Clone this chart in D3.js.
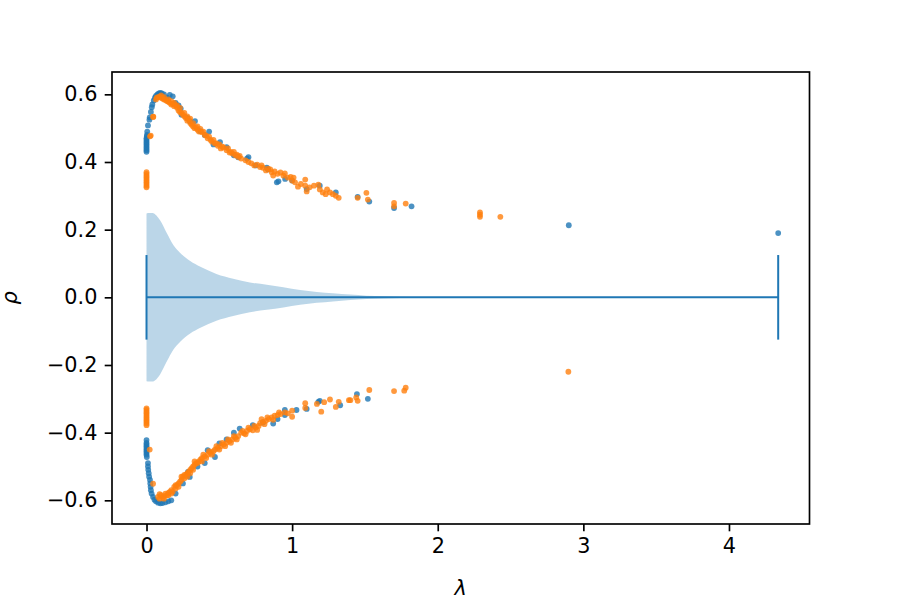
<!DOCTYPE html>
<meta charset="utf-8">
<style>
	body { margin: 0; background: #fff; }
	svg text { font-family: "DejaVu Sans", sans-serif; }
</style>
<div id="vis-rho"></div>
<script src="https://cdn.jsdelivr.net/npm/d3@7"></script>
<script>
	// ---- data ----
	// scatter points as [lambda, rho]
	const blueUpper = [
		[0, 0.43], [0, 0.435], [0, 0.44], [0, 0.445], [0, 0.45], [0, 0.455], [0, 0.46], [0, 0.465], [0, 0.47],
		[0.002, 0.475], [0.003, 0.48], [0.005, 0.49], [0.01, 0.508], [0.02, 0.525], [0.022, 0.532], [0.03, 0.548],
		[0.036, 0.562], [0.04, 0.57], [0.05, 0.582], [0.058, 0.59], [0.065, 0.595], [0.075, 0.6], [0.085, 0.603],
		[0.095, 0.604], [0.105, 0.603], [0.12, 0.6], [0.14, 0.59], [0.16, 0.598], [0.18, 0.594], [0.2, 0.575],
		[0.22, 0.567], [0.235, 0.558], [0.24, 0.54], [0.28, 0.53], [0.3, 0.52], [0.333, 0.521], [0.37, 0.491],
		[0.4, 0.48], [0.43, 0.49], [0.46, 0.452], [0.505, 0.459], [0.55, 0.444], [0.6, 0.42], [0.63, 0.414],
		[0.69, 0.41], [0.7, 0.414], [0.75, 0.39], [0.826, 0.383], [0.835, 0.378], [0.895, 0.34], [0.906, 0.343],
		[0.952, 0.35], [1.0, 0.345], [1.1, 0.32], [1.19, 0.33], [1.3, 0.31], [1.45, 0.297], [1.53, 0.283],
		[1.7, 0.264], [1.82, 0.269], [2.9, 0.213], [4.338, 0.19]
	];
	const orangeUpper = [
		[0, 0.325], [0, 0.33], [0, 0.335], [0, 0.34], [0, 0.345], [0, 0.35], [0, 0.355], [0, 0.36], [0, 0.365], [0, 0.37],
		[0.024, 0.476], [0.029, 0.478], [0.045, 0.533], [0.047, 0.534],
		[0.065, 0.585], [0.07, 0.59], [0.08, 0.592], [0.09, 0.593], [0.1, 0.59], [0.1, 0.597], [0.11, 0.588],
		[0.12, 0.585], [0.12, 0.592], [0.13, 0.583], [0.14, 0.58], [0.15, 0.578], [0.15, 0.585], [0.16, 0.575],
		[0.17, 0.57], [0.17, 0.58], [0.18, 0.572], [0.19, 0.565], [0.19, 0.575], [0.2, 0.567], [0.21, 0.56],
		[0.21, 0.567], [0.22, 0.552], [0.23, 0.56], [0.23, 0.548], [0.24, 0.545], [0.25, 0.54], [0.26, 0.535],
		[0.26, 0.545], [0.27, 0.53], [0.28, 0.522], [0.28, 0.535], [0.29, 0.525], [0.3, 0.515], [0.3, 0.528],
		[0.31, 0.51], [0.32, 0.505], [0.32, 0.515], [0.33, 0.5], [0.34, 0.502], [0.35, 0.495], [0.35, 0.505],
		[0.36, 0.49], [0.37, 0.498], [0.38, 0.488], [0.39, 0.49], [0.4, 0.48], [0.41, 0.478], [0.42, 0.47],
		[0.43, 0.475], [0.44, 0.465], [0.45, 0.46], [0.46, 0.465], [0.47, 0.455], [0.48, 0.455], [0.49, 0.448],
		[0.5, 0.452], [0.51, 0.44], [0.52, 0.445], [0.53, 0.443], [0.55, 0.435], [0.56, 0.44], [0.57, 0.428],
		[0.58, 0.43], [0.59, 0.425], [0.6, 0.43], [0.61, 0.42], [0.62, 0.422], [0.63, 0.415], [0.64, 0.418],
		[0.65, 0.41], [0.68, 0.405], [0.7, 0.4], [0.72, 0.396], [0.74, 0.39], [0.76, 0.392], [0.78, 0.385],
		[0.79, 0.39], [0.8, 0.383], [0.82, 0.375], [0.835, 0.38], [0.85, 0.378], [0.86, 0.37], [0.87, 0.36],
		[0.88, 0.372], [0.9, 0.365], [0.92, 0.369], [0.94, 0.36], [0.95, 0.366], [0.97, 0.354], [0.99, 0.356],
		[1.0, 0.345], [1.01, 0.354], [1.02, 0.34], [1.04, 0.327], [1.06, 0.335], [1.09, 0.348], [1.09, 0.33],
		[1.1, 0.313], [1.12, 0.325], [1.15, 0.33], [1.18, 0.333], [1.19, 0.319], [1.21, 0.31], [1.23, 0.305],
		[1.24, 0.319], [1.26, 0.31], [1.28, 0.305], [1.3, 0.3], [1.32, 0.294], [1.45, 0.294], [1.51, 0.309],
		[1.52, 0.289], [1.7, 0.279], [1.7, 0.269], [1.78, 0.277],
		[2.29, 0.251], [2.29, 0.244], [2.29, 0.238], [2.43, 0.238]
	];
	const blueLower = [
		[0, -0.422], [0, -0.43], [0, -0.435], [0, -0.44], [0, -0.445], [0, -0.45], [0, -0.455], [0, -0.46],
		[0, -0.465], [0.002, -0.472], [0.01, -0.49], [0.01, -0.5], [0.012, -0.51], [0.015, -0.52], [0.018, -0.53],
		[0.024, -0.54], [0.026, -0.55], [0.028, -0.56], [0.03, -0.57], [0.035, -0.58], [0.045, -0.59],
		[0.055, -0.598], [0.065, -0.603], [0.08, -0.607], [0.095, -0.609], [0.11, -0.608], [0.13, -0.606],
		[0.15, -0.603], [0.17, -0.6], [0.2, -0.58], [0.25, -0.55], [0.285, -0.516], [0.297, -0.531],
		[0.35, -0.5], [0.4, -0.49], [0.42, -0.452], [0.47, -0.472], [0.5, -0.432], [0.55, -0.42], [0.6, -0.4],
		[0.64, -0.388], [0.73, -0.378], [0.8, -0.37], [0.87, -0.373], [0.9, -0.36], [0.95, -0.348], [0.95, -0.333],
		[1.03, -0.333], [1.1, -0.33], [1.18, -0.309], [1.19, -0.306], [1.33, -0.319], [1.445, -0.286], [1.52, -0.3]
	];
	const orangeLower = [
		[0, -0.328], [0, -0.333], [0, -0.338], [0, -0.343], [0, -0.348], [0, -0.353], [0, -0.358], [0, -0.363],
		[0, -0.368], [0, -0.373], [0, -0.378], [0.022, -0.45], [0.045, -0.551],
		[0.08, -0.59], [0.09, -0.595], [0.09, -0.582], [0.1, -0.585], [0.11, -0.592], [0.12, -0.588], [0.12, -0.595],
		[0.13, -0.58], [0.14, -0.585], [0.15, -0.578], [0.15, -0.585], [0.16, -0.575], [0.17, -0.57], [0.17, -0.58],
		[0.18, -0.575], [0.19, -0.56], [0.2, -0.565], [0.2, -0.555], [0.21, -0.555], [0.22, -0.55], [0.22, -0.56],
		[0.23, -0.545], [0.24, -0.54], [0.24, -0.53], [0.25, -0.53], [0.26, -0.535], [0.26, -0.525], [0.27, -0.525],
		[0.28, -0.52], [0.28, -0.53], [0.29, -0.515], [0.3, -0.51], [0.3, -0.52], [0.31, -0.505], [0.32, -0.5],
		[0.32, -0.51], [0.33, -0.495], [0.33, -0.485], [0.34, -0.49], [0.35, -0.49], [0.36, -0.485], [0.37, -0.48],
		[0.38, -0.475], [0.38, -0.485], [0.39, -0.465], [0.4, -0.47], [0.41, -0.475], [0.42, -0.465], [0.43, -0.455],
		[0.44, -0.46], [0.45, -0.465], [0.46, -0.455], [0.47, -0.45], [0.48, -0.44], [0.49, -0.445], [0.5, -0.45],
		[0.51, -0.44], [0.52, -0.43], [0.53, -0.435], [0.54, -0.44], [0.55, -0.43], [0.56, -0.42], [0.57, -0.425],
		[0.58, -0.43], [0.59, -0.42], [0.6, -0.41], [0.61, -0.415], [0.62, -0.42], [0.63, -0.41], [0.65, -0.4],
		[0.66, -0.395], [0.67, -0.402], [0.68, -0.405], [0.69, -0.395], [0.7, -0.385], [0.71, -0.39], [0.73, -0.393],
		[0.74, -0.38], [0.75, -0.385], [0.76, -0.392], [0.77, -0.38], [0.78, -0.372], [0.79, -0.36], [0.8, -0.368],
		[0.81, -0.375], [0.82, -0.365], [0.83, -0.355], [0.84, -0.36], [0.86, -0.355], [0.87, -0.362], [0.88, -0.35],
		[0.9, -0.348], [0.91, -0.34], [0.92, -0.345], [0.95, -0.34], [0.97, -0.343], [1.0, -0.353], [1.0, -0.335],
		[1.09, -0.313], [1.09, -0.327], [1.17, -0.315], [1.2, -0.338], [1.22, -0.31], [1.26, -0.302], [1.3, -0.324],
		[1.32, -0.309], [1.39, -0.304], [1.4, -0.304], [1.44, -0.296], [1.45, -0.306], [1.53, -0.274], [1.7, -0.277],
		[1.77, -0.276], [1.78, -0.267], [2.897, -0.22]
	];

	// violin (horizontal, at rho = 0): density half-width along lambda
	const violinLambda = [0, 0.02, 0.04, 0.06, 0.093, 0.139, 0.184, 0.23, 0.3, 0.37, 0.48, 0.595, 0.71, 0.826,
		0.94, 1.055, 1.17, 1.28, 1.4, 1.51, 1.63, 1.74, 1.9, 2.1, 2.4, 3.0, 3.6, 4.338];
	const violinHalf = [0.248, 0.249, 0.249, 0.245, 0.228, 0.19, 0.155, 0.132, 0.107, 0.09, 0.069, 0.055, 0.044,
		0.037, 0.03, 0.022, 0.016, 0.012, 0.008, 0.005, 0.0035, 0.002, 0.001, 0.0007, 0.0005, 0.0002, 0.0001, 0.0001];
	const capHalf = 0.125;

	const xTicks = [0, 1, 2, 3, 4];
	const yTicks = [-0.6, -0.4, -0.2, 0, 0.2, 0.4, 0.6];

	// ---- layout ----
	const width = 900, height = 600;
	const axLeft = 112, axRight = 809.5, axTop = 72, axBottom = 524;
	const fontSize = 20.8;
	const blue = "#1f77b4", orange = "#ff7f0e";

	const x = d3.scaleLinear().domain([-0.237, 4.553]).range([axLeft, axRight]);
	const y = d3.scaleLinear().domain([-0.67, 0.666]).range([axBottom, axTop]);

	const svg = d3.select("#vis-rho")
		.append("svg")
		.attr("width", width)
		.attr("height", height);

	svg.append("rect").attr("width", width).attr("height", height).attr("fill", "#fff");

	// violin body
	const violin = violinLambda.map((l, i) => ({ l: l, h: violinHalf[i] }));
	const area = d3.area()
		.x(d => x(d.l))
		.y0(d => y(-d.h))
		.y1(d => y(d.h))
		.curve(d3.curveMonotoneX);

	svg.append("path")
		.datum(violin)
		.attr("d", area)
		.attr("fill", blue)
		.attr("fill-opacity", 0.3);

	// extrema bars
	const [lMin, lMax] = d3.extent(violinLambda);
	const bars = svg.append("g").attr("stroke", blue).attr("stroke-width", 2);
	bars.append("line")
		.attr("x1", x(lMin)).attr("x2", x(lMax))
		.attr("y1", y(0)).attr("y2", y(0));
	bars.selectAll("line.cap").data([lMin, lMax])
		.enter()
		.append("line")
		.attr("class", "cap")
		.attr("x1", d => x(d)).attr("x2", d => x(d))
		.attr("y1", y(capHalf)).attr("y2", y(-capHalf));

	// scatter
	function drawPoints(data, color) {
		svg.append("g").selectAll("circle").data(data)
			.enter()
			.append("circle")
			.attr("cx", d => x(d[0]))
			.attr("cy", d => y(d[1]))
			.attr("r", 2.9)
			.attr("fill", color)
			.attr("fill-opacity", 0.8);
	}
	drawPoints(blueUpper, blue);
	drawPoints(blueLower, blue);
	drawPoints(orangeUpper, orange);
	drawPoints(orangeLower, orange);

	// axes
	const xAxis = d3.axisBottom(x).tickValues(xTicks).tickFormat(d3.format("d"))
		.tickSize(7.3).tickPadding(7.3);
	const yAxis = d3.axisLeft(y).tickValues(yTicks).tickFormat(d3.format(".1f"))
		.tickSize(7.3).tickPadding(7.3);

	const gx = svg.append("g").attr("transform", "translate(0," + axBottom + ")").call(xAxis);
	const gy = svg.append("g").attr("transform", "translate(" + axLeft + ",0)").call(yAxis);
	[gx, gy].forEach(g => {
		g.select(".domain").remove();
		g.selectAll(".tick line").attr("stroke", "#000").attr("stroke-width", 1.67);
		g.selectAll(".tick text")
			.attr("fill", "#000")
			.style("font-size", fontSize + "px")
			.style("font-family", "'DejaVu Sans', sans-serif");
	});

	// frame
	svg.append("rect")
		.attr("x", axLeft).attr("y", axTop)
		.attr("width", axRight - axLeft).attr("height", axBottom - axTop)
		.attr("fill", "none")
		.attr("stroke", "#000")
		.attr("stroke-width", 1.67);

	// axis labels
	svg.append("text")
		.attr("x", (axLeft + axRight) / 2)
		.attr("y", 595)
		.attr("text-anchor", "middle")
		.style("font-size", fontSize + "px")
		.style("font-style", "italic")
		.text("λ");

	svg.append("text")
		.attr("transform", "translate(17," + (axTop + axBottom) / 2 + ") rotate(-90)")
		.attr("text-anchor", "middle")
		.style("font-size", fontSize + "px")
		.style("font-style", "italic")
		.text("ρ");
</script>
